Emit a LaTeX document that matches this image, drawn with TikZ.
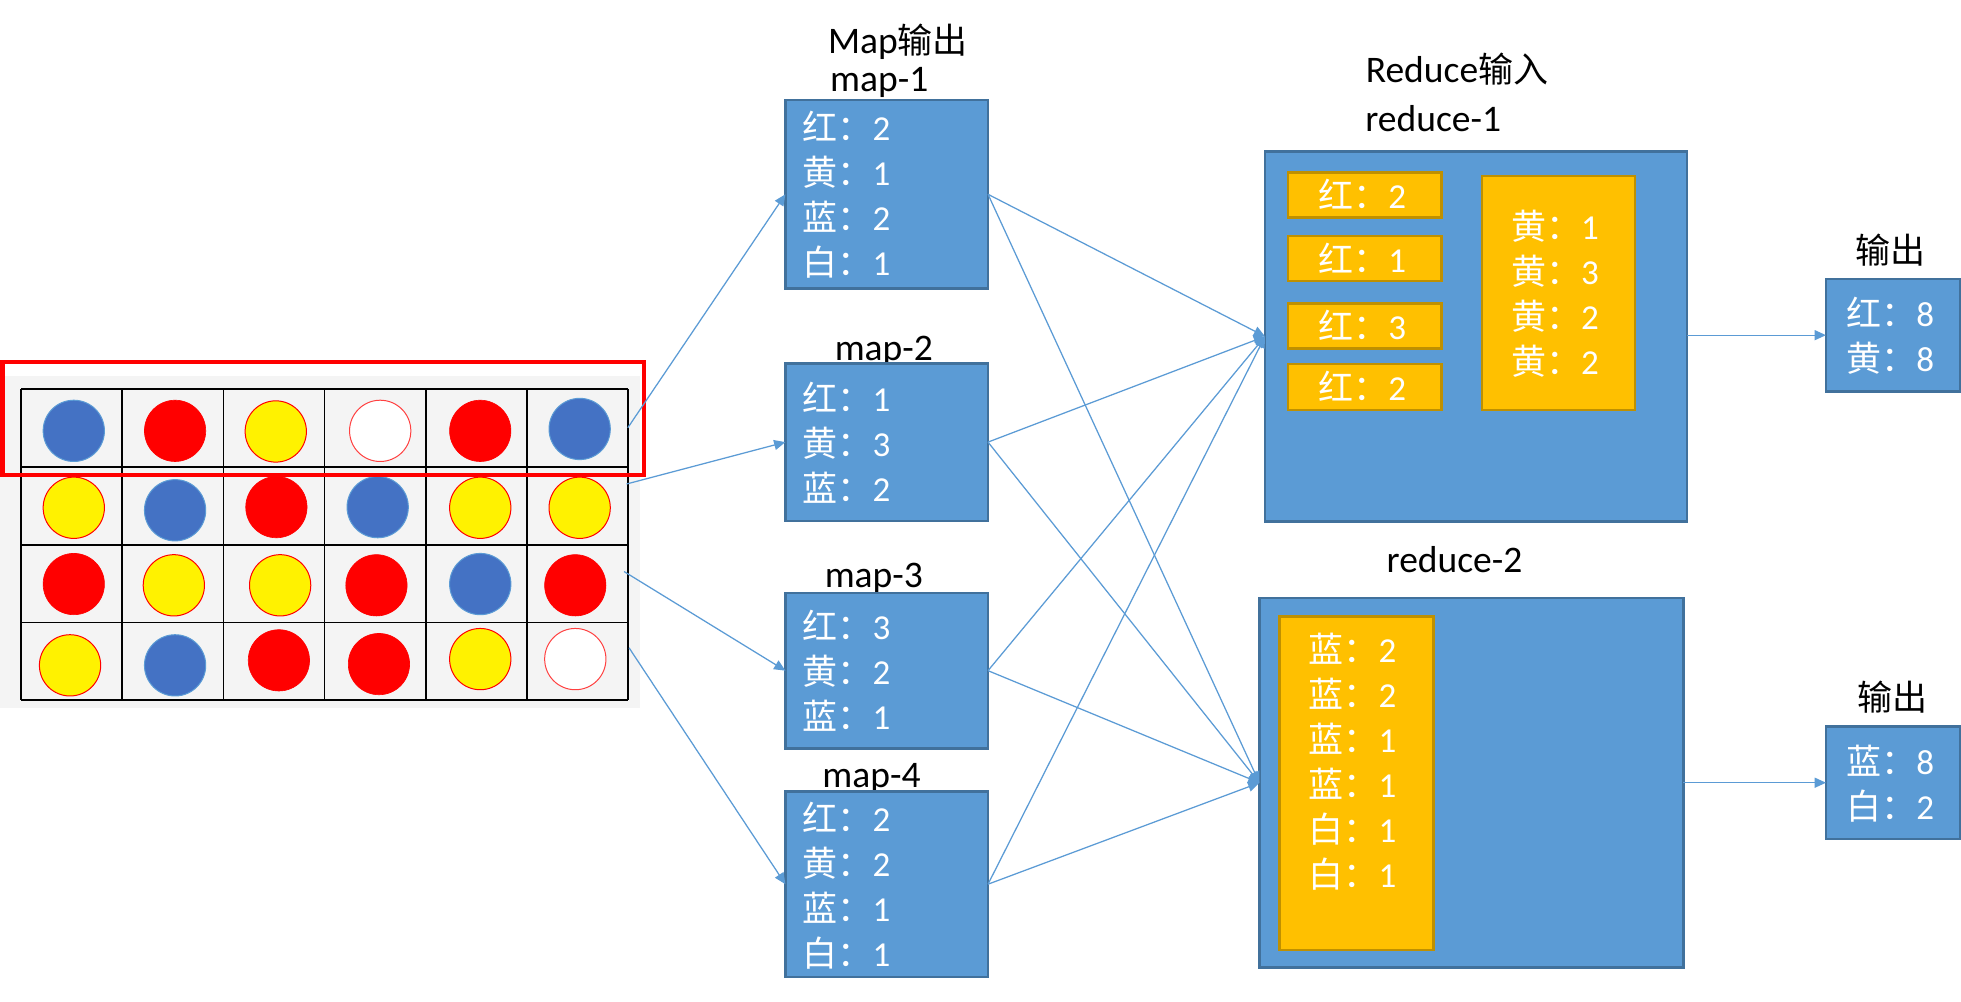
\documentclass[tikz,border=0pt]{standalone}
\usepackage{fontspec}
\setmainfont{Carlito}
\newfontfamily\cjk{Noto Sans CJK SC}
\usetikzlibrary{arrows.meta}
\definecolor{boxblue}{HTML}{5B9BD5}
\definecolor{boxedge}{HTML}{41719C}
\definecolor{orng}{HTML}{FFC000}
\definecolor{orngedge}{HTML}{BF9000}
\definecolor{cblue}{HTML}{4472C4}
\definecolor{bggray}{HTML}{F4F4F4}
\definecolor{wedge}{HTML}{FF4040}
\begin{document}
\begin{tikzpicture}[x=1pt,y=-1pt,
  bluebox/.style={rectangle, draw=boxedge, fill=boxblue, line width=2pt, inner sep=0pt, outer sep=0pt},
  orangebox/.style={rectangle, draw=orngedge, fill=orng, line width=2pt, inner sep=0pt, outer sep=0pt},
  txt/.style={text=white, inner sep=0pt, anchor=base west, font=\fontsize{28}{36}\selectfont},
  ttl/.style={text=black, inner sep=0pt, anchor=base, font=\fontsize{30}{36}\selectfont},
  conn/.style={draw=boxblue, line width=1pt, -{Triangle[length=9pt,width=8pt]}},
  circ/.style={circle, minimum size=49pt, inner sep=0pt},
  cB/.style={circ, fill=cblue, draw=boxblue, line width=0.8pt},
  cR/.style={circ, fill=red, draw=red, line width=0.5pt},
  cY/.style={circ, fill=yellow, draw=red, line width=0.8pt},
  cW/.style={circ, fill=white, draw=wedge, line width=0.8pt},
  gridline/.style={black, line width=1.5pt},
]
\useasboundingbox (0,0) rectangle (1568,800.4);
\fill[white] (0,0) rectangle (1568,800.4);

% ---------- left grid ----------
\fill[bggray] (0,301) rectangle (512,566);
\foreach \gx in {17,97.83,178.67,259.5,340.33,421.17,502}
  \draw[gridline] (\gx,311) -- (\gx,560);
\foreach \gy in {311,373.25,435.5,497.75,560}
  \draw[gridline] (17,\gy) -- (502,\gy);
\foreach \xx/\yy/\cs [count=\k] in {
  59/344.5/cB, 140/344.5/cR, 220.5/345/cY, 304/344.5/cW, 384/344.5/cR, 463.5/343/cB,
  59/406/cY, 140/408/cB, 221/405.5/cR, 302/405.5/cB, 384/406/cY, 463.5/406/cY,
  59/467/cR, 139/468/cY, 224/468/cY, 301/468/cR, 384/467/cB, 460/468/cR,
  56/532/cY, 140/532/cB, 223/528/cR, 303/531/cR, 384/527/cY, 460/527/cW}
  \node[\cs] (c\k) at (\xx,\yy) {};
\draw[red, line width=3.5pt] (2,289.6) rectangle (514.7,380);

% ---------- map boxes ----------
\node[ttl] (maptitle) at (718,42.7) {Map{\cjk\fontsize{28}{36}\selectfont 输出}};
\node[ttl] (m1l) at (703,73.3) {map-1};
\node[ttl] (m2l) at (706.7,288) {map-2};
\node[ttl] (m3l) at (698.7,469.8) {map-3};
\node[ttl] (m4l) at (696.8,630) {map-4};

\node[bluebox, minimum width=162pt, minimum height=150.7pt] (m1) at (709,155.35) {};
\node[bluebox, minimum width=162pt, minimum height=126pt] (m2) at (709,353.5) {};
\node[bluebox, minimum width=162pt, minimum height=124.5pt] (m3) at (709,536.25) {};
\node[bluebox, minimum width=162pt, minimum height=148pt] (m4) at (709,707) {};

\foreach \cc/\nn [count=\i from 0] in {红/2,黄/1,蓝/2,白/1}
  \node[txt] (m1t\i) at (641.5,112.3+36*\i) {{\cjk\cc{}：}\nn};
\foreach \cc/\nn [count=\i from 0] in {红/1,黄/3,蓝/2}
  \node[txt] (m2t\i) at (641.5,328.8+36*\i) {{\cjk\cc{}：}\nn};
\foreach \cc/\nn [count=\i from 0] in {红/3,黄/2,蓝/1}
  \node[txt] (m3t\i) at (641.5,511.3+36*\i) {{\cjk\cc{}：}\nn};
\foreach \cc/\nn [count=\i from 0] in {红/2,黄/2,蓝/1,白/1}
  \node[txt] (m4t\i) at (641.5,664.5+36*\i) {{\cjk\cc{}：}\nn};

% ---------- reduce boxes ----------
\node[ttl] (redtitle) at (1165,66) {Reduce{\cjk\fontsize{28}{36}\selectfont 输入}};
\node[ttl] (r1l) at (1146,105.3) {reduce-1};
\node[ttl] (r2l) at (1163,458) {reduce-2};

\node[bluebox, minimum width=337.5pt, minimum height=296pt] (r1) at (1180.25,269) {};
\node[bluebox, minimum width=339pt, minimum height=295.2pt] (r2) at (1176.5,625.9) {};

\node[orangebox, minimum width=122.5pt, minimum height=36pt] (k1) at (1091.25,156) {};
\node[orangebox, minimum width=122.5pt, minimum height=36pt] (k2) at (1091.25,206.6) {};
\node[orangebox, minimum width=122.5pt, minimum height=36pt] (k3) at (1091.25,260.5) {};
\node[orangebox, minimum width=122.5pt, minimum height=36.7pt] (k4) at (1091.25,309.35) {};
\node[orangebox, minimum width=122.5pt, minimum height=187.2pt] (ky) at (1246.25,234.4) {};
\node[orangebox, minimum width=123pt, minimum height=266.5pt] (kb) at (1084.5,626.25) {};

\node[txt] (k1t) at (1054,167) {{\cjk 红：}2};
\node[txt] (k2t) at (1054,217.6) {{\cjk 红：}1};
\node[txt] (k3t) at (1054,271.5) {{\cjk 红：}3};
\node[txt] (k4t) at (1054,320.4) {{\cjk 红：}2};
\foreach \cc/\nn [count=\i from 0] in {黄/1,黄/3,黄/2,黄/2}
  \node[txt] (kyt\i) at (1208,191.4+36*\i) {{\cjk\cc{}：}\nn};
\foreach \cc/\nn [count=\i from 0] in {蓝/2,蓝/2,蓝/1,蓝/1,白/1,白/1}
  \node[txt] (kbt\i) at (1046.2,529.7+36*\i) {{\cjk\cc{}：}\nn};

% ---------- output boxes ----------
\node[ttl, font=\cjk\fontsize{28}{36}\selectfont] (o1l) at (1512,210.6) {输出};
\node[ttl, font=\cjk\fontsize{28}{36}\selectfont] (o2l) at (1513,568) {输出};
\node[bluebox, minimum width=107pt, minimum height=90pt] (o1) at (1513.5,268) {};
\node[bluebox, minimum width=107pt, minimum height=90.3pt] (o2) at (1513.5,625.85) {};
\node[txt] (o1t0) at (1476,261) {{\cjk 红：}8};
\node[txt] (o1t1) at (1476,297) {{\cjk 黄：}8};
\node[txt] (o2t0) at (1476,618.9) {{\cjk 蓝：}8};
\node[txt] (o2t1) at (1476,654.9) {{\cjk 白：}2};

% ---------- connectors ----------
\coordinate (g1) at (502,342);
\coordinate (g2) at (501,387);
\coordinate (g3) at (499,457);
\coordinate (g4) at (503,518);
\draw[conn] (g1) -- (m1.west);
\draw[conn] (g2) -- (m2.west);
\draw[conn] (g3) -- (m3.west);
\draw[conn] (g4) -- (m4.west);
\foreach \m in {m1,m2,m3,m4} {
  \draw[conn] (\m.east) -- (r1.west);
  \draw[conn] (\m.east) -- (r2.west);
}
\draw[conn] (r1.east |- o1.west) -- (o1.west);
\draw[conn] (r2.east |- o2.west) -- (o2.west);
\end{tikzpicture}
\end{document}
